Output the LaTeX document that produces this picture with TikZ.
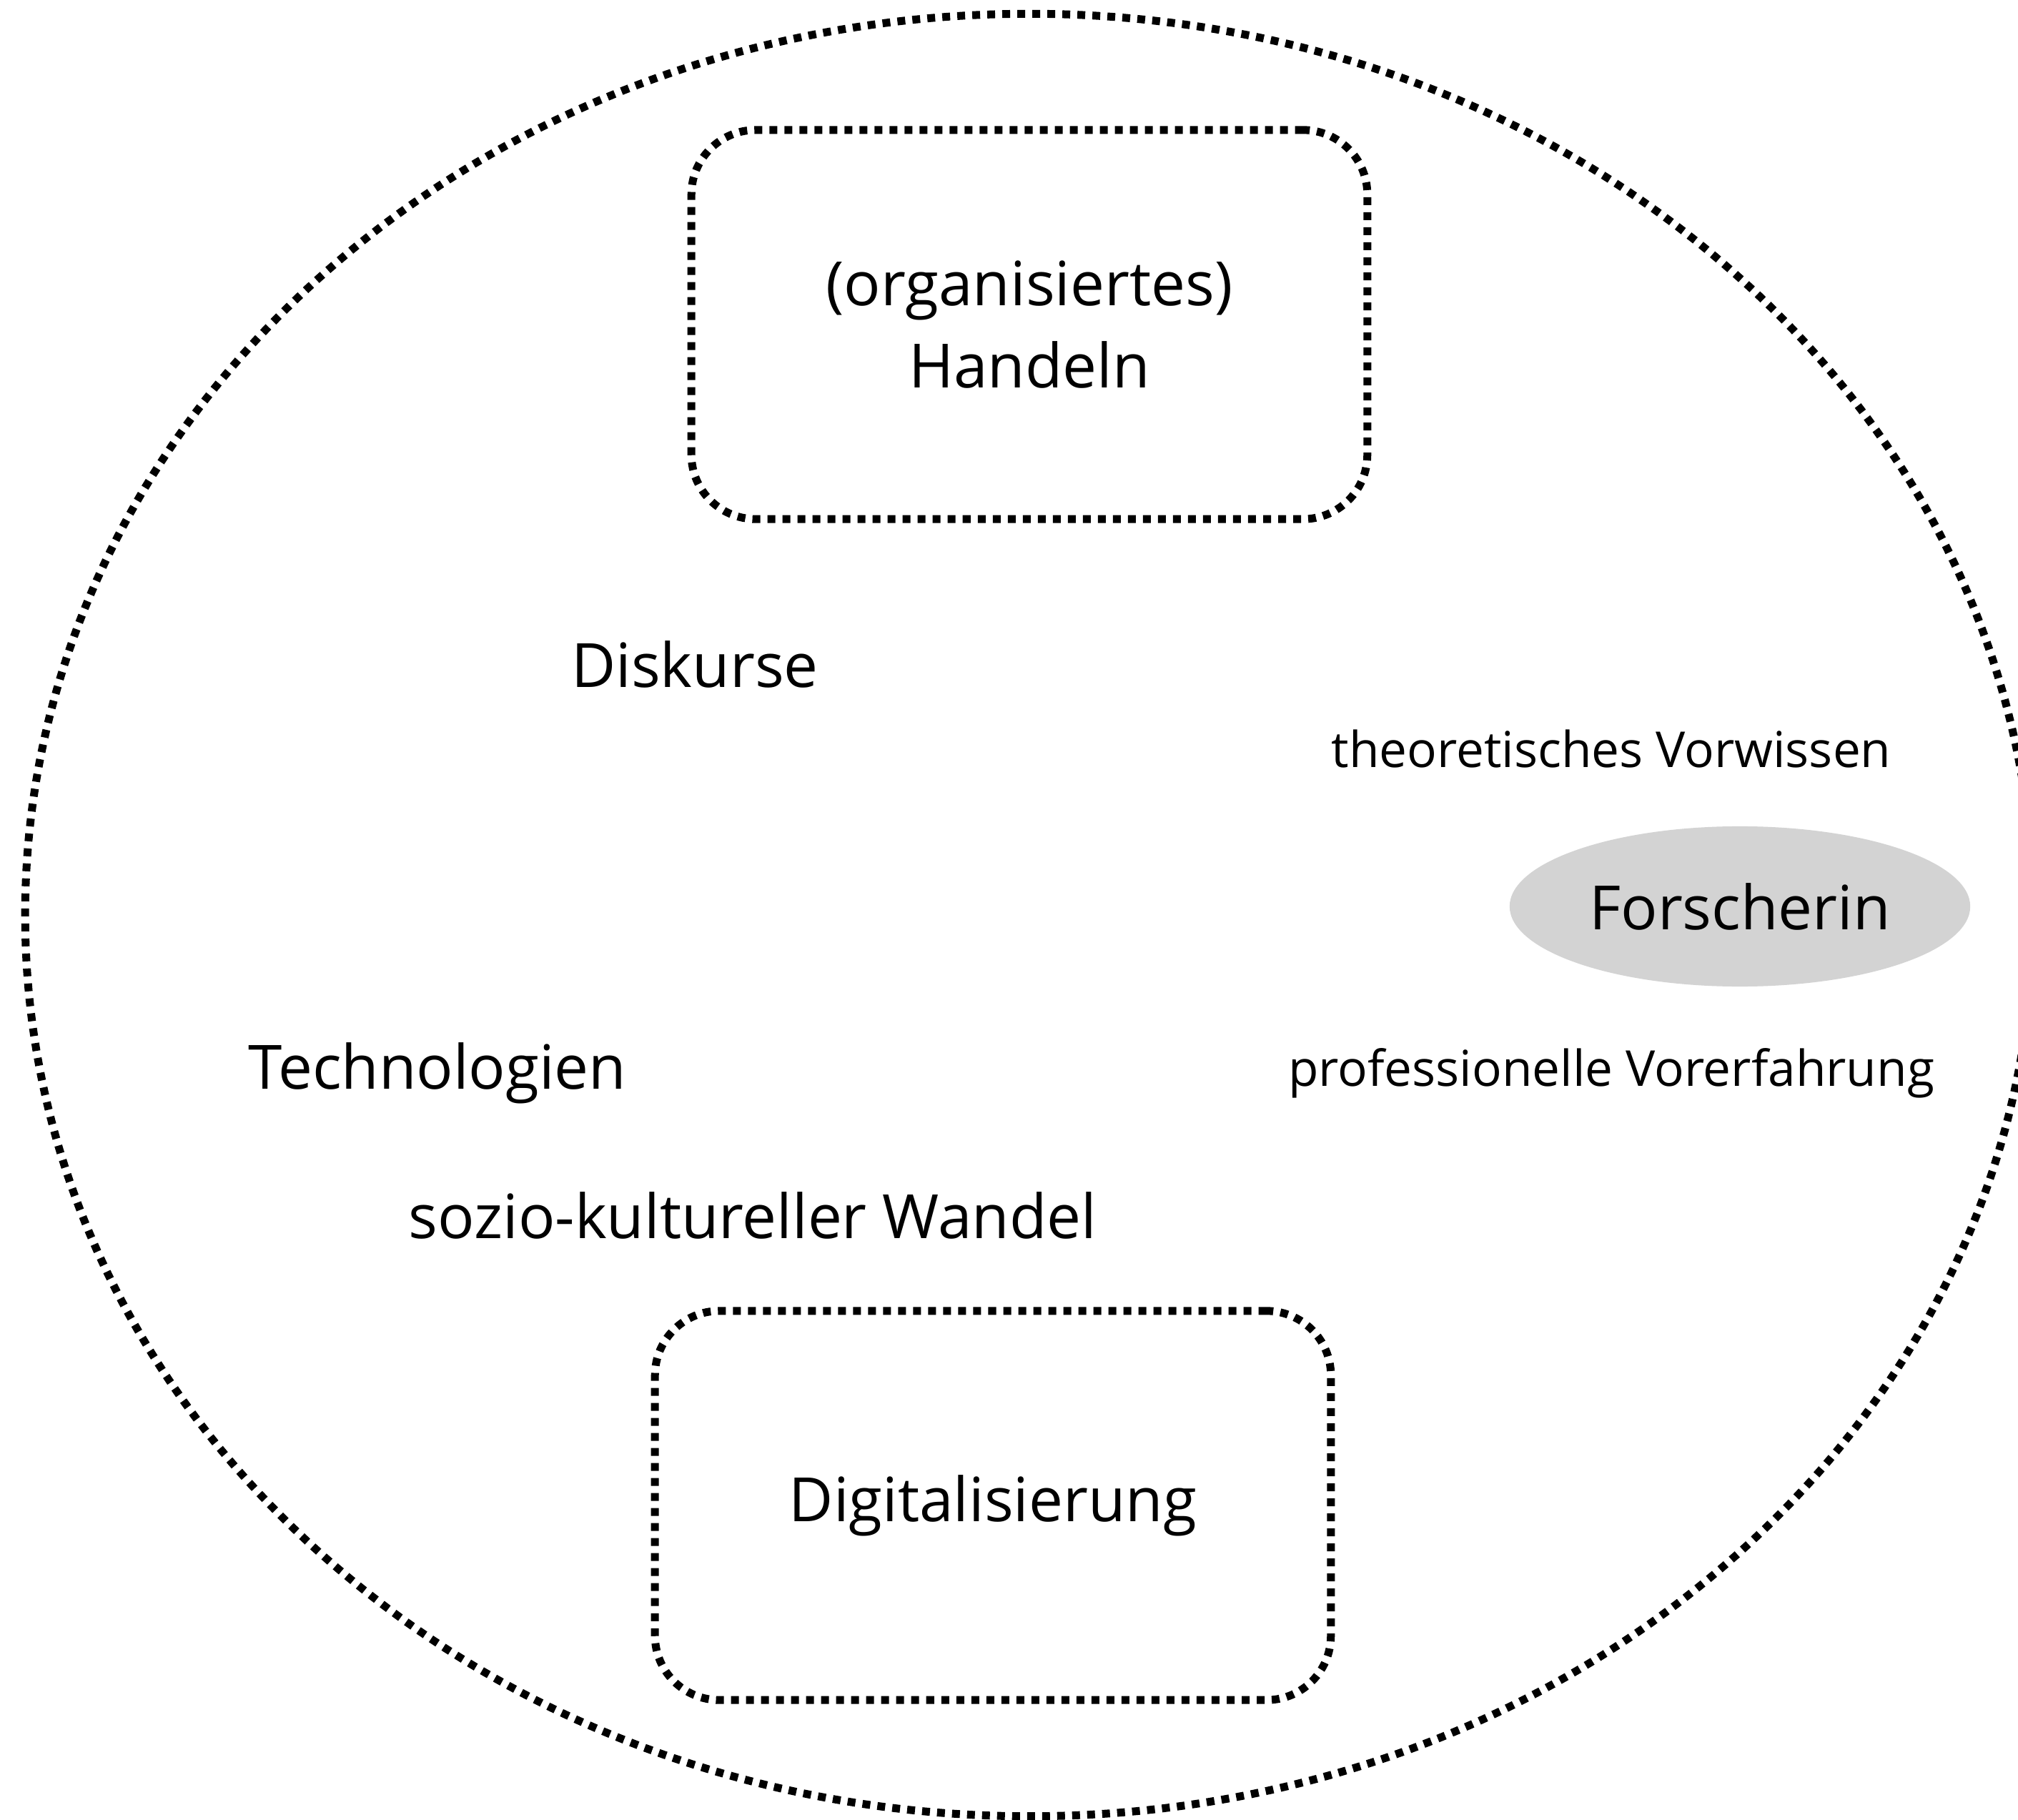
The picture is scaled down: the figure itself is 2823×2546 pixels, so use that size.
\documentclass[tikz,border=0pt]{standalone}
\usepackage{fontspec}
\setmainfont{Open Sans}
\usetikzlibrary{shapes.geometric}
\definecolor{fillgray}{RGB}{211,211,211}
\tikzset{
  dotline/.style={line width=0.11cm, dash pattern=on 0.11cm off 0.10cm},
  bigtext/.style={font=\fontsize{24.3}{32.7}\selectfont, align=center, inner sep=0pt},
  smalltext/.style={font=\fontsize{19.7}{24}\selectfont, inner sep=0pt},
  roundbox/.style={dotline, draw, rounded corners=0.9cm, minimum width=9.45cm, minimum height=5.44cm, inner sep=0pt, bigtext},
}
\begin{document}
\begin{tikzpicture}[x=0.01cm, y=-0.01cm]
\useasboundingbox (0,0) rectangle (2823,2546);
\clip (0,0) rectangle (2823,2546);
\node[draw, dotline, ellipse, inner sep=0pt, minimum width=28.08cm, minimum height=25.2cm] (outer) at (1440,1280) {};
\node[roundbox] (handeln) at (1440,454) {(organisiertes)\\Handeln};
\node[roundbox] (digital) at (1389,2106) {Digitalisierung};
\node[bigtext] (diskurse) at (972,929) {Diskurse};
\node[bigtext] (techno) at (612,1501) {Technologien};
\node[bigtext] (wandel) at (1053,1700) {sozio-kultureller Wandel};
\node[smalltext] (vorwissen) at (2254,1048) {theoretisches Vorwissen};
\node[smalltext] (vorerf) at (2254,1501) {professionelle Vorerfahrung};
\node[ellipse, fill=fillgray, minimum width=6.44cm, minimum height=2.24cm, inner sep=0pt, bigtext] (forscherin) at (2434,1268) {Forscherin};
\end{tikzpicture}
\end{document}
